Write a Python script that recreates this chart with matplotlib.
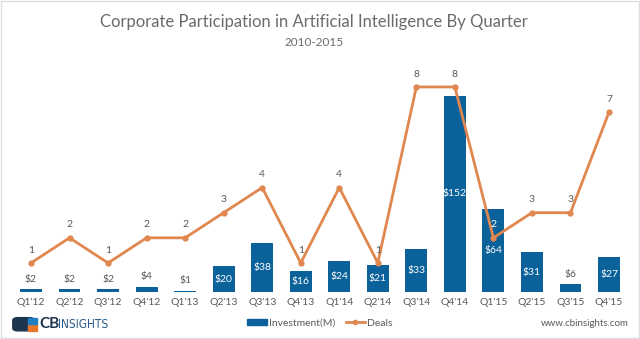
import matplotlib.pyplot as plt
from matplotlib.patches import Rectangle, FancyBboxPatch
from matplotlib.lines import Line2D
from matplotlib.patches import Patch

quarters = ["Q1'12", "Q2'12", "Q3'12", "Q4'12", "Q1'13", "Q2'13", "Q3'13", "Q4'13",
            "Q1'14", "Q2'14", "Q3'14", "Q4'14", "Q1'15", "Q2'15", "Q3'15", "Q4'15"]
investment = [2, 2, 2, 4, 1, 20, 38, 16, 24, 21, 33, 152, 64, 31, 6, 27]
deals = [1, 2, 1, 2, 2, 3, 4, 1, 4, 1, 8, 8, 2, 3, 3, 7]

BLUE = "#0b6199"
ORANGE = "#e0874f"
GRAY = "#595959"
FONT = "Lato"

fig = plt.figure(figsize=(6.4, 3.39), dpi=100)
ax = fig.add_axes([0.0183, 0.1386, 0.9634, 0.6549])
x = range(len(quarters))

YMAX = 172
ax.bar(x, investment, width=0.57, color=BLUE, zorder=2)
ax.set_ylim(0, YMAX)
ax.set_xlim(-0.5, len(quarters) - 0.5)
for i, v in enumerate(investment):
    if v >= 15:
        ax.text(i, v / 2, f"${v}", ha="center", va="center", color="white",
                fontsize=7.5, family=FONT)
    else:
        ax.annotate(f"${v}", (i, v), xytext=(0, 4), textcoords="offset points",
                    ha="center", va="bottom", color=GRAY, fontsize=7.5, family=FONT)

ax2 = ax.twinx()
ax2.plot(x, deals, color=ORANGE, lw=2, marker="o", ms=3.5, zorder=3)
lo, hi = -0.155, 8.675
ax2.set_ylim(lo, hi)
for i, d in enumerate(deals):
    # label sitting on top of a bar is drawn white
    inside = (d + 0.45 - lo) / (hi - lo) < investment[i] / YMAX
    ax2.annotate(str(d), (i, d), xytext=(0, 6), textcoords="offset points",
                 ha="center", va="bottom", color="white" if inside else GRAY,
                 fontsize=7.5, family=FONT)

for a in (ax, ax2):
    for s in a.spines.values():
        s.set_visible(False)
    a.set_yticks([])
ax.set_xticks(list(x))
ax.set_xticklabels(quarters, fontsize=7.5, color=GRAY, family=FONT)
ax.tick_params(axis="x", length=0, pad=4)
ax2.tick_params(length=0)

fig.text(0.49, 0.935, "Corporate Participation in Artificial Intelligence By Quarter",
         ha="center", va="center", fontsize=12, color="#6b6b6b", family=FONT)
fig.text(0.49, 0.875, "2010-2015", ha="center", va="center", fontsize=8.5,
         color="#6b6b6b", family=FONT)

handles = [Patch(color=BLUE), Line2D([], [], color=ORANGE, lw=2, marker="o", ms=3)]
fig.legend(handles, ["Investment(M)", "Deals"], loc="center", bbox_to_anchor=(0.5, 0.047),
           ncol=2, frameon=False, prop={"family": FONT, "size": 7.5},
           handlelength=1.9, handleheight=0.5, columnspacing=1.0, handletextpad=0.2,
           labelcolor=GRAY)

fig.text(0.982, 0.047, "www.cbinsights.com", ha="right", va="center", fontsize=7,
         color=GRAY, family=FONT)

# logo
fig.patches.append(FancyBboxPatch((0.020, 0.024), 0.034, 0.039,
                                  boxstyle="round,pad=0,rounding_size=0.008",
                                  transform=fig.transFigure, color="#1e3550"))
fig.patches.append(Rectangle((0.044, 0.024), 0.014, 0.019, transform=fig.transFigure,
                             color="#e8762d"))
fig.patches.append(Rectangle((0.044, 0.044), 0.014, 0.019, transform=fig.transFigure,
                             color="#1e7fc1"))
fig.text(0.062, 0.045, "CB", ha="left", va="center", fontsize=11, fontweight="bold",
         color="#1e3550", family=FONT)
fig.text(0.091, 0.042, "INSIGHTS", ha="left", va="center", fontsize=8.5,
         color="#2b5b8a", family="DejaVu Sans", stretch="condensed")

fig.patches.append(Rectangle((0.001, 0.002), 0.997, 0.995, transform=fig.transFigure,
                             fill=False, edgecolor="#dddddd", lw=1))

fig.savefig("out.png", dpi=100, facecolor="white")
